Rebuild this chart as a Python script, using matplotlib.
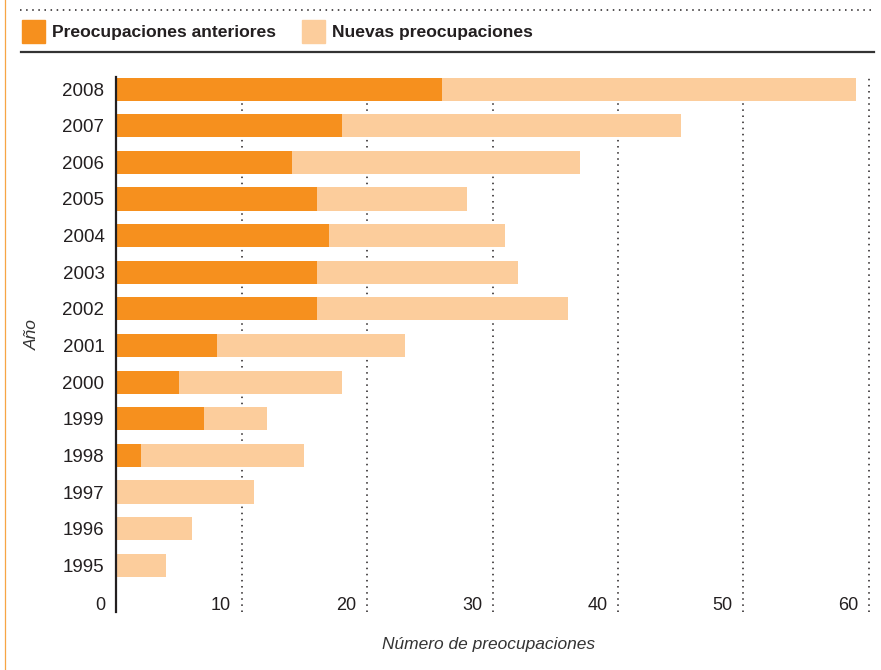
import matplotlib
matplotlib.use("Agg")
import matplotlib.pyplot as plt
from matplotlib.lines import Line2D
from matplotlib.patches import Rectangle
import matplotlib.transforms as mtransforms

plt.rcParams['font.family'] = ['Liberation Sans', 'DejaVu Sans']

years = [1995, 1996, 1997, 1998, 1999, 2000, 2001, 2002, 2003, 2004, 2005, 2006, 2007, 2008]
previous = [0, 0, 0, 2, 7, 5, 8, 16, 16, 17, 16, 14, 18, 26]
totals = [4, 6, 11, 15, 12, 18, 23, 36, 32, 31, 28, 37, 45, 59]
new = [t - p for t, p in zip(totals, previous)]
x_ticks = [0, 10, 20, 30, 40, 50, 60]

DARK_ORANGE = '#F6901E'
LIGHT_ORANGE = '#FCCD9C'
INK = '#231F20'

W, H = 881, 670
fig = plt.figure(figsize=(W / 100, H / 100), dpi=100)

def fx(px):
    return px / W

def fy(py):
    return 1 - py / H

# main axes: 0 sits on the dark spine, one row per year
ax = fig.add_axes([fx(116.3), fy(612), fx(875) - fx(116.3), (612 - 77) / H])
ax.set_xlim(0, 60.5)
ax.set_ylim(-0.275, 14.33)

pos = list(range(1, len(years) + 1))
ax.barh(pos, previous, height=0.63, color=DARK_ORANGE, zorder=2)
ax.barh(pos, new, left=previous, height=0.63, color=LIGHT_ORANGE, zorder=2)

for t in x_ticks[1:]:
    ax.axvline(t, color=INK, linestyle=(0, (1, 3)), linewidth=1.1, zorder=1)

# x tick labels sit inside the plot, just left of each gridline
offset = mtransforms.ScaledTranslation(-10.5 / 100, 0, fig.dpi_scale_trans)
for t in x_ticks:
    ax.text(t, -0.1, str(t), ha='right', va='center', fontsize=13, color=INK,
            transform=ax.transData + offset)

ax.set_yticks(pos)
ax.set_yticklabels([str(y) for y in years], fontsize=13.5, color=INK)
ax.tick_params(axis='y', length=0, pad=8.5)
ax.set_xticks([])
for side in ['top', 'right', 'bottom']:
    ax.spines[side].set_visible(False)
ax.spines['left'].set_color(INK)
ax.spines['left'].set_linewidth(1.6)

fig.text(fx(32), fy(335), 'Año', rotation=90, style='italic', fontsize=12.5,
         color='#333333', ha='center', va='center')
fig.text(fx(489), fy(645), 'Número de preocupaciones', style='italic', fontsize=12.5,
         color='#333333', ha='center', va='center')

# header: dotted rule, legend, solid rule
fig.add_artist(Line2D([fx(20), fx(872)], [fy(10), fy(10)], color=INK,
                      linestyle=(0, (1, 3)), linewidth=1.1))
fig.add_artist(Line2D([fx(21), fx(874)], [fy(51.5), fy(51.5)], color='#333333',
                      linewidth=1.6))
fig.add_artist(Line2D([fx(4.5), fx(4.5)], [0, 1], color='#F7A545', linewidth=0.9))

legend_items = [(22, DARK_ORANGE, 'Preocupaciones anteriores'),
                (302, LIGHT_ORANGE, 'Nuevas preocupaciones')]
for x0, color, label in legend_items:
    fig.add_artist(Rectangle((fx(x0), fy(43)), 23 / W, 23 / H, color=color,
                             transform=fig.transFigure))
    fig.text(fx(x0 + 30), fy(32), label, fontsize=12.6, fontweight='bold',
             color=INK, ha='left', va='center')

fig.savefig('out.png', dpi=100)
